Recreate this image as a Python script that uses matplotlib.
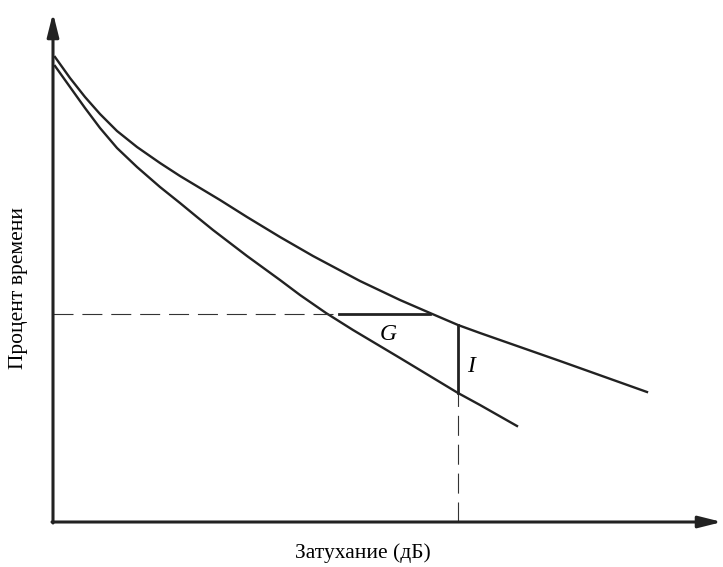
import numpy as np
import matplotlib.pyplot as plt

plt.rcParams['font.family'] = ['Liberation Serif', 'DejaVu Serif']

# values (arbitrary units: attenuation, percentage of time)
upper_x = [2, 17, 32, 47, 64, 84, 107, 127, 147, 167, 194, 227, 260, 307, 347, 377, 405, 427, 507, 594]
upper_y = [465, 444, 425, 408, 391, 375, 359, 346, 334, 322, 305, 285, 266, 241, 222, 209, 197, 189, 161, 130]
lower_x = [2, 17, 32, 47, 64, 84, 107, 127, 144, 160, 194, 227, 247, 273, 300, 347, 405, 427, 464]
lower_y = [456, 435, 414, 394, 374, 355, 335, 319, 305, 292, 266, 242, 227, 209, 192, 164, 129, 117, 96]

g_level = 208
g_x0, g_x1 = 286, 377
i_x = 405
i_top, i_bottom = 197, 129

fig = plt.figure(figsize=(7.23, 5.67), dpi=100)
ax = fig.add_axes([0, 0, 1, 1])
ax.set_xlim(-53, 670)
ax.set_ylim(-45, 522)
ax.axis('off')

# axes with arrows
arrow = dict(arrowstyle='-|>,head_length=1.4,head_width=0.35', color='#222222',
             lw=2.2, shrinkA=0, shrinkB=0)
ax.annotate('', xy=(669, 0), xytext=(-1, 0), arrowprops=arrow)
ax.annotate('', xy=(0, 509), xytext=(0, -1), arrowprops=arrow)

ax.plot(upper_x, upper_y, color='#222222', lw=1.7, solid_joinstyle='round')
ax.plot(lower_x, lower_y, color='#222222', lw=1.7, solid_joinstyle='round')

# dashed guides
ax.plot([0, g_x0 - 4], [g_level, g_level], color='#333333', lw=0.8, dashes=(18, 8))
ax.plot([i_x, i_x], [0, i_bottom], color='#333333', lw=0.8, dashes=(18, 8))

# G and I segments
ax.plot([g_x0, g_x1], [g_level, g_level], color='#222222', lw=2)
ax.plot([i_x, i_x], [i_bottom, i_top], color='#222222', lw=2)

ax.text(335, 187, 'G', fontsize=17, style='italic', ha='center', va='center')
ax.text(418, 155, 'I', fontsize=17, style='italic', ha='center', va='center')

ax.text(310, -31, 'Затухание (дБ)', fontsize=15.5, ha='center', va='center')
ax.text(-34, 234, 'Процент времени', fontsize=15.5, rotation=90, ha='center', va='center')

fig.savefig('out.png', dpi=100)
